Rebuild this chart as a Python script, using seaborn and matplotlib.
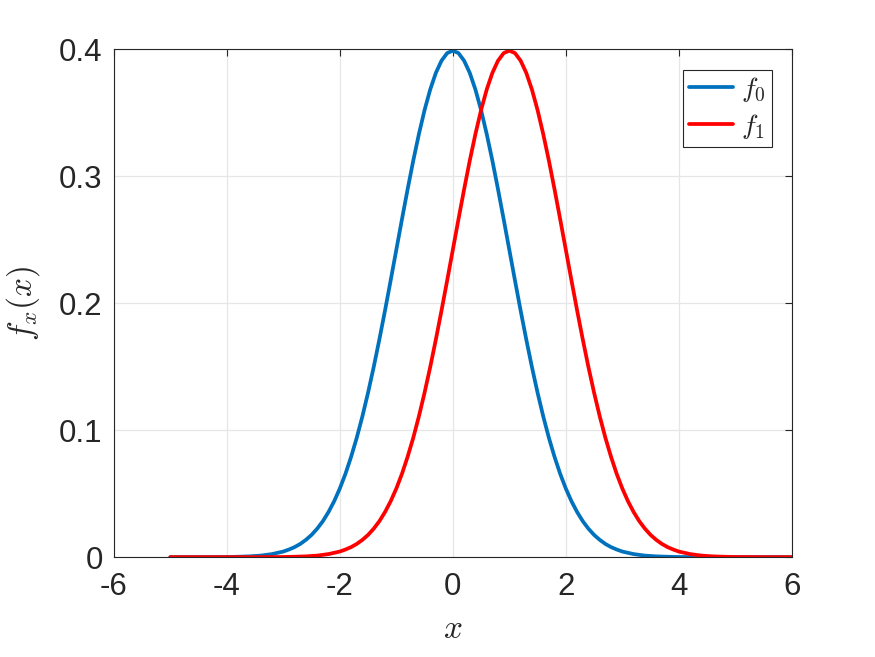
import matplotlib
matplotlib.use('Agg')
import matplotlib.pyplot as plt
import seaborn as sns
import pandas as pd

# values: f0 (blue) and f1 (red)
f0_x = [-5.0, -4.5, -4.0, -3.8, -3.6, -3.4, -3.2,
        -3.0, -2.9, -2.8, -2.7, -2.6, -2.5, -2.4, -2.3, -2.2, -2.1,
        -2.0, -1.9, -1.8, -1.7, -1.6, -1.5, -1.4, -1.3, -1.2, -1.1,
        -1.0, -0.9, -0.8, -0.7, -0.6, -0.5, -0.4, -0.3, -0.2, -0.1,
        0.0, 0.1, 0.2, 0.3, 0.4, 0.5, 0.6, 0.7, 0.8, 0.9,
        1.0, 1.1, 1.2, 1.3, 1.4, 1.5, 1.6, 1.7, 1.8, 1.9,
        2.0, 2.1, 2.2, 2.3, 2.4, 2.5, 2.6, 2.7, 2.8, 2.9,
        3.0, 3.2, 3.4, 3.6, 3.8, 4.0, 4.5, 5.0, 5.5, 6.0]
f0_y = [0.0, 0.0, 0.0001, 0.0003, 0.0006, 0.0012, 0.0024,
        0.0044, 0.0060, 0.0079, 0.0104, 0.0136, 0.0175, 0.0224, 0.0283, 0.0355, 0.0440,
        0.0540, 0.0656, 0.0790, 0.0940, 0.1109, 0.1295, 0.1497, 0.1714, 0.1942, 0.2179,
        0.2420, 0.2661, 0.2897, 0.3123, 0.3332, 0.3521, 0.3683, 0.3814, 0.3910, 0.3970,
        0.3989, 0.3970, 0.3910, 0.3814, 0.3683, 0.3521, 0.3332, 0.3123, 0.2897, 0.2661,
        0.2420, 0.2179, 0.1942, 0.1714, 0.1497, 0.1295, 0.1109, 0.0940, 0.0790, 0.0656,
        0.0540, 0.0440, 0.0355, 0.0283, 0.0224, 0.0175, 0.0136, 0.0104, 0.0079, 0.0060,
        0.0044, 0.0024, 0.0012, 0.0006, 0.0003, 0.0001, 0.0, 0.0, 0.0, 0.0]
f1_x = [-5.0, -4.5, -4.0, -3.5, -3.0, -2.8, -2.6, -2.4, -2.2,
        -2.0, -1.9, -1.8, -1.7, -1.6, -1.5, -1.4, -1.3, -1.2, -1.1,
        -1.0, -0.9, -0.8, -0.7, -0.6, -0.5, -0.4, -0.3, -0.2, -0.1,
        0.0, 0.1, 0.2, 0.3, 0.4, 0.5, 0.6, 0.7, 0.8, 0.9,
        1.0, 1.1, 1.2, 1.3, 1.4, 1.5, 1.6, 1.7, 1.8, 1.9,
        2.0, 2.1, 2.2, 2.3, 2.4, 2.5, 2.6, 2.7, 2.8, 2.9,
        3.0, 3.1, 3.2, 3.3, 3.4, 3.5, 3.6, 3.7, 3.8, 3.9,
        4.0, 4.2, 4.4, 4.6, 4.8, 5.0, 5.5, 6.0]
f1_y = [0.0, 0.0, 0.0, 0.0, 0.0001, 0.0003, 0.0006, 0.0012, 0.0024,
        0.0044, 0.0060, 0.0079, 0.0104, 0.0136, 0.0175, 0.0224, 0.0283, 0.0355, 0.0440,
        0.0540, 0.0656, 0.0790, 0.0940, 0.1109, 0.1295, 0.1497, 0.1714, 0.1942, 0.2179,
        0.2420, 0.2661, 0.2897, 0.3123, 0.3332, 0.3521, 0.3683, 0.3814, 0.3910, 0.3970,
        0.3989, 0.3970, 0.3910, 0.3814, 0.3683, 0.3521, 0.3332, 0.3123, 0.2897, 0.2661,
        0.2420, 0.2179, 0.1942, 0.1714, 0.1497, 0.1295, 0.1109, 0.0940, 0.0790, 0.0656,
        0.0540, 0.0440, 0.0355, 0.0283, 0.0224, 0.0175, 0.0136, 0.0104, 0.0079, 0.0060,
        0.0044, 0.0024, 0.0012, 0.0006, 0.0003, 0.0001, 0.0, 0.0]
series_labels = ['$f_0$', '$f_1$']
colors = ['#0072BD', '#FF0000']

sns.set_style('white')
plt.rcParams['font.family'] = ['Liberation Sans', 'DejaVu Sans']
plt.rcParams['mathtext.fontset'] = 'cm'

df = pd.concat([
    pd.DataFrame({'x': f0_x, 'y': f0_y, 'curve': series_labels[0]}),
    pd.DataFrame({'x': f1_x, 'y': f1_y, 'curve': series_labels[1]}),
])

fig = plt.figure(figsize=(8.75, 6.57), dpi=100)
ax = fig.add_axes([0.130, 0.152, 0.775, 0.773])

sns.lineplot(data=df, x='x', y='y', hue='curve', palette=colors, linewidth=2.7,
             ax=ax, sort=False)

ax.set_xlim(-6, 6)
ax.set_ylim(0, 0.4)
ax.set_xticks([-6, -4, -2, 0, 2, 4, 6])
ax.set_yticks([0, 0.1, 0.2, 0.3, 0.4])
ax.set_xticklabels(['-6', '-4', '-2', '0', '2', '4', '6'])
ax.set_yticklabels(['0', '0.1', '0.2', '0.3', '0.4'])
ax.tick_params(labelsize=22.5, direction='in', top=True, right=True,
               length=5, width=0.8, colors='#262626')
ax.tick_params(axis='x', pad=11)
ax.tick_params(axis='y', pad=8)
ax.grid(True, color='#e6e6e6', linewidth=0.9)
for s in ax.spines.values():
    s.set_color('#262626')
    s.set_linewidth(0.8)

ax.set_xlabel('$x$', fontsize=24, labelpad=8)
ax.set_ylabel('$f_x(x)$', fontsize=24, labelpad=12)

leg = ax.legend(title=None, fontsize=20, loc='upper right',
                bbox_to_anchor=(0.97, 0.96), fancybox=False, framealpha=1,
                edgecolor='#262626', handlelength=1.6, borderpad=0.2,
                labelspacing=0.3, handletextpad=0.3, borderaxespad=0)
leg.get_frame().set_linewidth(0.8)

fig.savefig('out.png', dpi=100)
